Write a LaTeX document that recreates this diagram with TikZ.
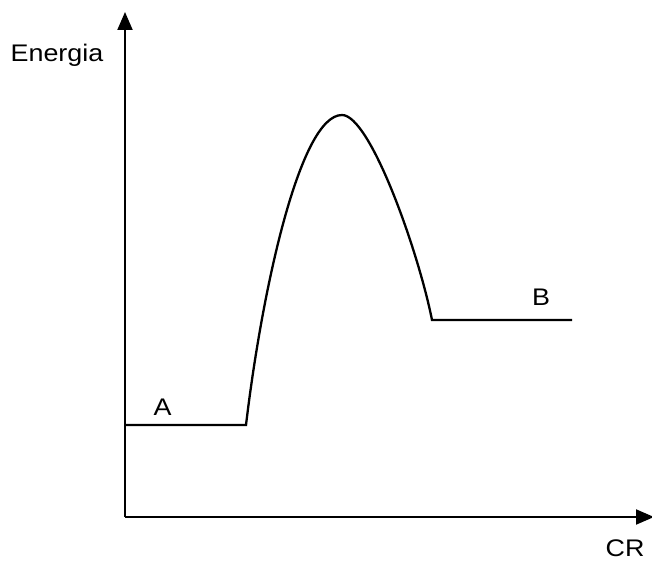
\documentclass[tikz,border=0pt]{standalone}
\usepackage{fontspec}
\setmainfont{Liberation Sans}
\usetikzlibrary{arrows.meta}
\begin{document}
\begin{tikzpicture}[x=1pt,y=-1pt,
  axis/.style={line width=2pt,-{Triangle[length=18pt,width=15pt]}},
  curve/.style={line width=2.3pt,line join=miter},
  lbl/.style={font=\fontsize{24}{26}\selectfont,xscale=1.12,anchor=base,inner sep=0pt}]
\useasboundingbox (0,0) rectangle (652,561);
\coordinate (O) at (125,517);
\coordinate (ytip) at (125,12);
\coordinate (xtip) at (654,517);
\draw[axis] (O) -- (ytip);
\draw[axis] (O) -- (xtip);
\coordinate (a0) at (125,425);
\coordinate (a1) at (246,425);
\coordinate (peak) at (342,115);
\coordinate (b0) at (432,320);
\coordinate (b1) at (572,320);
\draw[curve] (a0) -- (a1) .. controls (262,290) and (300,115) .. (peak)
  .. controls (370,115) and (418,250) .. (b0) -- (b1);
\node[lbl] (en) at (57,62) {Energia};
\node[lbl] (A) at (162.5,415) {A};
\node[lbl] (B) at (541,305) {B};
\node[lbl] (CR) at (625,556) {CR};
\end{tikzpicture}
\end{document}
